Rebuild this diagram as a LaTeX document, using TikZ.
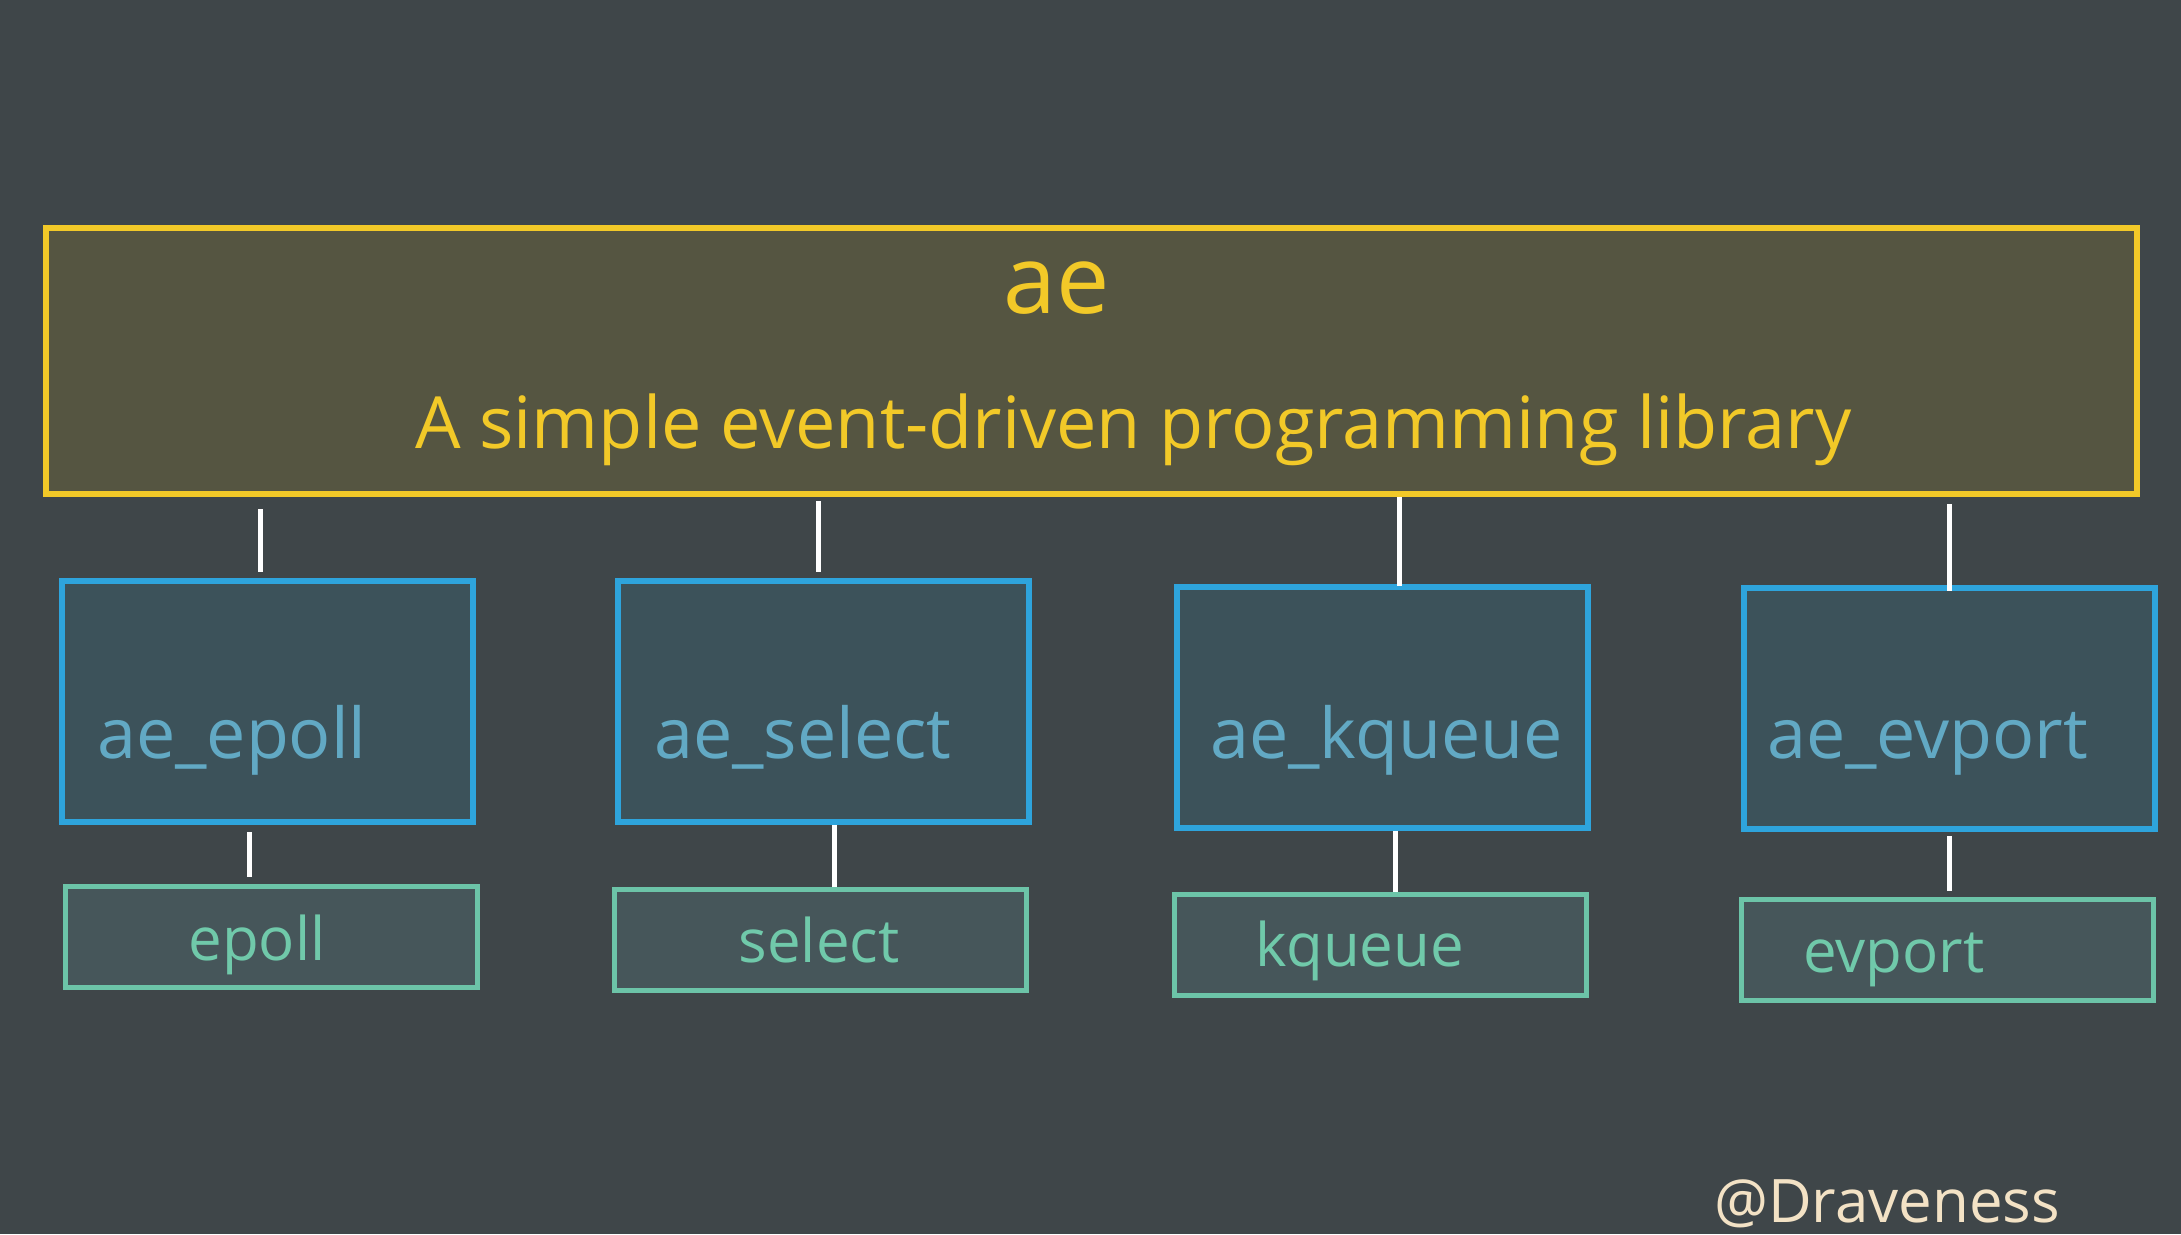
\documentclass[tikz,border=0pt]{standalone}
\usepackage{fontspec}
\setmainfont{Open Sans}
\usetikzlibrary{calc}
\definecolor{bg}{HTML}{3F4649}
\definecolor{topfill}{HTML}{555541}
\definecolor{topline}{HTML}{F2C928}
\definecolor{bluefill}{HTML}{3C525A}
\definecolor{blueline}{HTML}{2EA4DC}
\definecolor{bluetextc}{HTML}{62A9C4}
\definecolor{greenfill}{HTML}{46565A}
\definecolor{greenline}{HTML}{6CC4A8}
\definecolor{greentextc}{HTML}{70C9AA}
\definecolor{signc}{HTML}{F3E2C5}
\tikzset{
  topbox/.style={draw=topline, fill=topfill, line width=6.5pt, rectangle, inner sep=0pt},
  bluebox/.style={draw=blueline, fill=bluefill, line width=6pt, rectangle, inner sep=0pt,
    minimum width=411pt, minimum height=241pt},
  greenbox/.style={draw=greenline, fill=greenfill, line width=5pt, rectangle, inner sep=0pt,
    minimum width=412pt, minimum height=101pt},
  toptext/.style={text=topline, inner sep=0pt},
  bluetext/.style={text=bluetextc, inner sep=0pt, font=\fontsize{70}{84}\selectfont},
  greentext/.style={text=greentextc, inner sep=0pt, font=\fontsize{60}{72}\selectfont},
  signtext/.style={text=signc, inner sep=0pt, font=\fontsize{60}{72}\selectfont},
  conn/.style={draw=white, line width=5pt}
}
\begin{document}
\begin{tikzpicture}[x=1pt,y=-1pt]
\fill[bg] (0,0) rectangle (2181,1234);
\useasboundingbox (0,0) rectangle (2181,1234);

% top box
\node[topbox, minimum width=2091pt, minimum height=266pt] (top) at (1091.5,361) {};
\node[toptext, anchor=base, font=\fontsize{95}{110}\selectfont] (ae) at (1057,313) {ae};
\node[toptext, anchor=base west, font=\fontsize{72}{86}\selectfont] (desc) at (415,448) {A simple event-driven programming library};

% blue boxes
\node[bluebox] (b1) at (267,701.5) {};
\node[bluebox] (b2) at (823.5,701.5) {};
\node[bluebox] (b3) at (1382,707) {};
\node[bluebox] (b4) at (1949.5,708.5) {};
\node[bluetext, anchor=base west] (t1) at (97,758) {ae\_epoll};
\node[bluetext, anchor=base west] (t2) at (654,758) {ae\_select};
\node[bluetext, anchor=base west] (t3) at (1210,758) {ae\_kqueue};
\node[bluetext, anchor=base west] (t4) at (1767,758) {ae\_evport};

% green boxes
\node[greenbox] (g1) at (271.5,937) {};
\node[greenbox] (g2) at (820,940) {};
\node[greenbox] (g3) at (1380,944.5) {};
\node[greenbox] (g4) at (1947,949.5) {};
\node[greentext, anchor=base] (s1) at (257,960) {epoll};
\node[greentext, anchor=base] (s2) at (819,962) {select};
\node[greentext, anchor=base] (s3) at (1360,966) {kqueue};
\node[greentext, anchor=base] (s4) at (1894,972) {evport};

% connectors top -> blue
\draw[conn] ([xshift=-7pt,yshift=-12pt]b1.north |- top.south) -- ([xshift=-7pt,yshift=6pt]b1.north);
\draw[conn] ([xshift=-5pt,yshift=-4pt]b2.north |- top.south) -- ([xshift=-5pt,yshift=6pt]b2.north);
\draw[conn] ([xshift=17pt,yshift=0pt]b3.north |- top.south) -- ([xshift=17pt,yshift=-2pt]b3.north);
\draw[conn] ([xshift=0pt,yshift=-7pt]b4.north |- top.south) -- ([xshift=0pt,yshift=-6pt]b4.north);

% connectors blue -> green
\draw[conn] ([xshift=-18pt,yshift=-7pt]b1.south) -- ([xshift=-18pt,yshift=7pt]b1.south |- g1.north);
\draw[conn] ([xshift=11pt]b2.south) -- ([xshift=11pt]b2.south |- g2.north);
\draw[conn] ([xshift=13pt]b3.south) -- ([xshift=13pt]b3.south |- g3.north);
\draw[conn] ([xshift=0pt,yshift=-4pt]b4.south) -- ([xshift=0pt,yshift=6pt]b4.south |- g4.north);

% signature
\node[signtext, anchor=base west] (sig) at (1714,1222) {@Draveness};
\end{tikzpicture}
\end{document}
